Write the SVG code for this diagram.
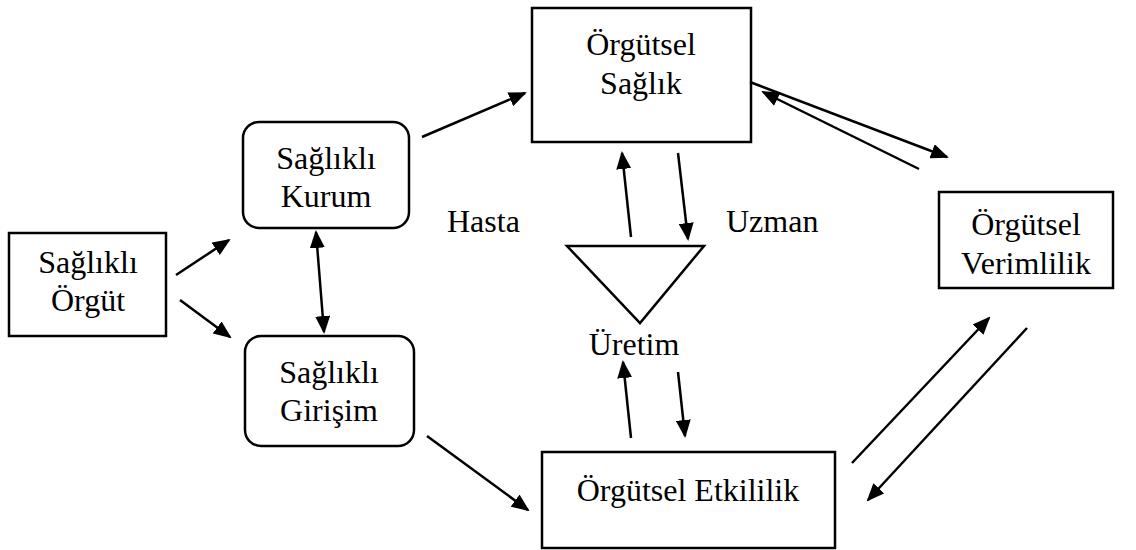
<svg xmlns="http://www.w3.org/2000/svg" width="1136" height="550" viewBox="0 0 1136 550">
  <style>
    .box { fill: #fff; stroke: #000; stroke-width: 2.5; }
    .lbl { font-family: "Liberation Serif", "Times New Roman", serif; font-size: 32px; fill: #000; text-anchor: middle; }
    .free { font-family: "Liberation Serif", "Times New Roman", serif; font-size: 32px; fill: #000; }
    .arr { stroke: #000; stroke-width: 2.5; fill: none; }
  </style>
  <defs>
    <marker id="head" viewBox="0 0 18 15" refX="16" refY="7.5" markerWidth="18" markerHeight="15" markerUnits="userSpaceOnUse" orient="auto-start-reverse">
      <path d="M0,0 L18,7.5 L0,15 z" fill="#000"/>
    </marker>
  </defs>
  <rect width="1136" height="550" fill="#fff"/>

  <g id="saglikli-orgut">
    <rect class="box" x="9" y="233" width="157" height="103"/>
    <text class="lbl" x="88" y="273">Sağlıklı</text>
    <text class="lbl" x="88" y="311">Örgüt</text>
  </g>

  <g id="saglikli-kurum">
    <rect class="box" x="243" y="122" width="166" height="106" rx="16"/>
    <text class="lbl" x="326" y="169">Sağlıklı</text>
    <text class="lbl" x="326" y="207">Kurum</text>
  </g>

  <g id="saglikli-girisim">
    <rect class="box" x="245" y="336" width="169" height="110" rx="16"/>
    <text class="lbl" x="329" y="383">Sağlıklı</text>
    <text class="lbl" x="329" y="421">Girişim</text>
  </g>

  <g id="orgutsel-saglik">
    <rect class="box" x="532" y="8" width="219" height="134"/>
    <text class="lbl" x="641" y="55">Örgütsel</text>
    <text class="lbl" x="641" y="94">Sağlık</text>
  </g>

  <g id="orgutsel-verimlilik">
    <rect class="box" x="939" y="192" width="174" height="96"/>
    <text class="lbl" x="1026" y="235">Örgütsel</text>
    <text class="lbl" x="1026" y="274">Verimlilik</text>
  </g>

  <g id="orgutsel-etkililik">
    <rect class="box" x="542" y="452" width="293" height="96"/>
    <text class="lbl" x="688" y="501">Örgütsel Etkililik</text>
  </g>

  <g id="uretim">
    <polygon class="box" points="567,246 704,246 640,323"/>
    <text class="lbl" x="634" y="355">Üretim</text>
  </g>

  <g id="labels">
    <text class="free" x="447" y="232">Hasta</text>
    <text class="free" x="726" y="232">Uzman</text>
  </g>

  <g id="connectors">
    <line class="arr" x1="176" y1="275" x2="229" y2="240" marker-end="url(#head)"/>
    <line class="arr" x1="180" y1="300" x2="230" y2="337" marker-end="url(#head)"/>
    <line class="arr" x1="316" y1="232" x2="324" y2="332" marker-start="url(#head)" marker-end="url(#head)"/>
    <line class="arr" x1="422" y1="137" x2="525" y2="93" marker-end="url(#head)"/>
    <line class="arr" x1="427" y1="436" x2="528" y2="510" marker-end="url(#head)"/>
    <line class="arr" x1="631" y1="237" x2="622" y2="153" marker-end="url(#head)"/>
    <line class="arr" x1="678" y1="153" x2="688" y2="239" marker-end="url(#head)"/>
    <line class="arr" x1="631" y1="438" x2="623" y2="362" marker-end="url(#head)"/>
    <line class="arr" x1="678" y1="372" x2="685" y2="436" marker-end="url(#head)"/>
    <line class="arr" x1="750" y1="82" x2="947" y2="157" marker-end="url(#head)"/>
    <line class="arr" x1="919" y1="169" x2="763" y2="92" marker-end="url(#head)"/>
    <line class="arr" x1="852" y1="463" x2="989" y2="318" marker-end="url(#head)"/>
    <line class="arr" x1="1027" y1="328" x2="868" y2="500" marker-end="url(#head)"/>
  </g>
</svg>
